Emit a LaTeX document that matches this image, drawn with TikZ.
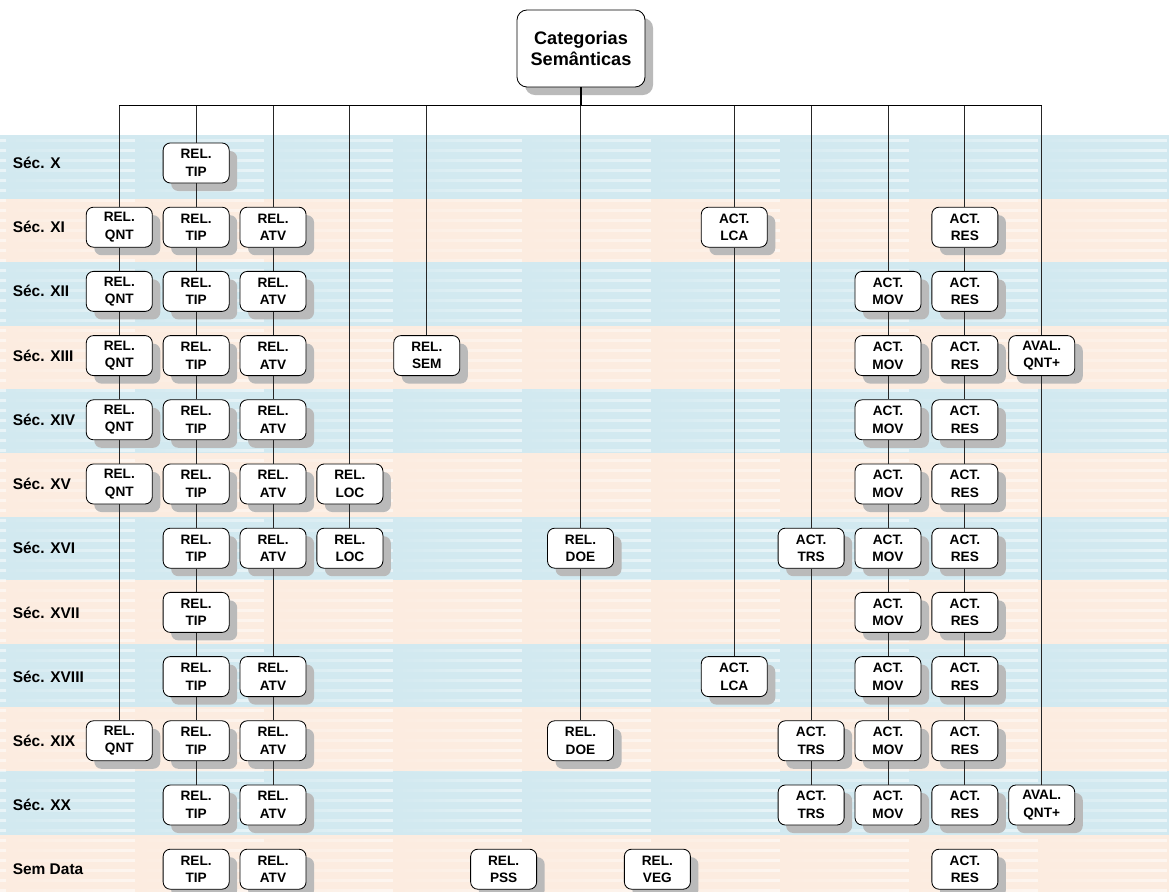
\documentclass[tikz,border=0pt]{standalone}
\usepackage{fontspec}
\setmainfont{Liberation Sans}
\usetikzlibrary{shadows, fadings}
\definecolor{rowblue}{RGB}{210, 233, 240}
\definecolor{rowpeach}{RGB}{252, 236, 224}
\tikzfading[name=stripefade, left color=transparent!100, right color=transparent!45]

\begin{document}
\begin{tikzpicture}[x=0.025cm, y=-0.025cm,
  cat/.style={draw=black, line width=0.6pt, fill=white, rounded corners=0.18cm,
    minimum width=1.65cm, minimum height=1cm, inner sep=0pt, align=center,
    font=\fontsize{9.7}{12.4}\selectfont\bfseries,
    drop shadow={shadow xshift=0.2cm, shadow yshift=-0.2cm, fill=black!27, opacity=1}},
  topbox/.style={cat, rounded corners=0.25cm, minimum width=3.2cm, minimum height=1.925cm,
    font=\fontsize{12.9}{15}\selectfont\bfseries},
  rowlab/.style={anchor=west, inner sep=0pt, font=\fontsize{11}{12}\selectfont\bfseries},
  link/.style={line width=0.7pt, black!85},
  bus/.style={line width=1.1pt, black}]
  \useasboundingbox (0,0) rectangle (1169,892);

  % row bands
  \begin{scope}
    \clip (0,135) rectangle (1169,892);
    \foreach \k in {0,2,...,10}
      \fill[rowblue] (0,{135+63.6*\k}) rectangle (1169,{198.6+63.6*\k});
    \foreach \k in {1,3,...,11}
      \fill[rowpeach] (0,{135+63.6*\k}) rectangle (1169,{198.6+63.6*\k});
    \foreach \bx in {-123,6,...,1038}
      \draw[white, line width=0.07cm, path fading=stripefade]
        \foreach \s in {0,...,75} {(\bx,{140+10*\s}) -- ++(129,0)};
  \end{scope}

  % row labels
  \foreach \lab [count=\k from 0] in {Séc. X, Séc. XI, Séc. XII, Séc. XIII, Séc. XIV,
      Séc. XV, Séc. XVI, Séc. XVII, Séc. XVIII, Séc. XIX, Séc. XX, Sem Data}
    \node[rowlab] (lab-\k) at (12.5,{163+64.2*\k}) {\lab};

  % categories, column by column
  \foreach \nm/\c/\ta/\tb/\rows in {qnt/0/REL./QNT/{1,2,3,4,5,9},
      tip/1/REL./TIP/{0,...,11}, atv/2/REL./ATV/{1,2,3,4,5,6,8,9,10,11},
      loc/3/REL./LOC/{5,6}, sem/4/REL./SEM/{3}, pss/5/REL./PSS/{11},
      doe/6/REL./DOE/{6,9}, veg/7/REL./VEG/{11}, lca/8/ACT./LCA/{1,8},
      trs/9/ACT./TRS/{6,9,10}, mov/10/ACT./MOV/{2,...,10},
      res/11/ACT./RES/{1,...,11}, qntp/12/AVAL./QNT+/{3,10}} {
    \coordinate (\nm-bus) at ({119.3+76.87*\c},105.7);
    \foreach \r in \rows
      \node[cat] (\nm-\r) at ({119.3+76.87*\c},{163+64.2*\r}) {\ta\\\tb};
  }

  \node[topbox] (cats) at (581,48.5) {Categorias\\Semânticas};
  \coordinate (cats-bus) at (581,105.7);
  \draw[bus] (cats) -- (cats-bus);
  \draw[bus] (qnt-bus) -- (qntp-bus);

  % vertical links
  \foreach \nm/\rows in {qnt/{1,2,3,4,5,9}, tip/{0,...,10}, atv/{1,2,3,4,5,6,8,9,10},
      loc/{5,6}, sem/{3}, doe/{6,9}, lca/{1,8}, trs/{6,9,10}, mov/{2,...,10},
      res/{1,...,10}, qntp/{3,10}}
    \foreach \r [remember=\r as \lastr (initially bus)] in \rows
      \draw[link] (\nm-\lastr) -- (\nm-\r);
\end{tikzpicture}
\end{document}
